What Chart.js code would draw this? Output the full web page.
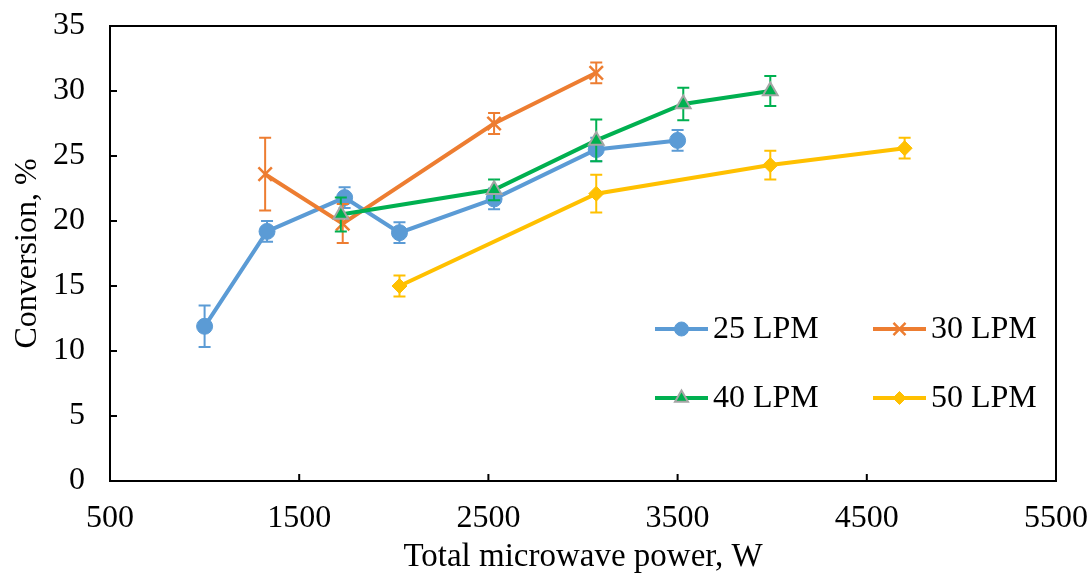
<!DOCTYPE html>
<html>
<head>
<meta charset="utf-8">
<script src="https://cdn.jsdelivr.net/npm/chart.js@4"></script>
<style>
  body { margin: 0; background: #fff; }
  #wrap { width: 1090px; height: 577px; }
</style>
</head>
<body>
<div id="wrap"><canvas id="chart"></canvas></div>
<script>
// values
const seriesNames = ["25 LPM", "30 LPM", "40 LPM", "50 LPM"];

const power25 = [1000, 1330, 1740, 2030, 2530, 3070, 3500];
const conv25 = [11.9, 19.2, 21.8, 19.1, 21.7, 25.5, 26.2];
const err25 = [1.6, 0.8, 0.8, 0.8, 0.8, 0.9, 0.8];

const power30 = [1320, 1730, 2530, 3070];
const conv30 = [23.6, 19.8, 27.5, 31.4];
const err30 = [2.8, 1.5, 0.8, 0.8];

const power40 = [1720, 2530, 3070, 3530, 3990];
const conv40 = [20.5, 22.4, 26.2, 29.0, 30.0];
const err40 = [1.3, 0.8, 1.6, 1.25, 1.15];

const power50 = [2030, 3070, 3990, 4700];
const conv50 = [15.0, 22.1, 24.3, 25.6];
const err50 = [0.8, 1.45, 1.1, 0.8];

const FONT = "'Liberation Serif', 'Times New Roman', serif";
const FSIZE = 32;

function pts(xs, ys) {
  return xs.map((x, i) => ({ x: x, y: ys[i] }));
}

const styles = [
  { color: "#5B9BD5", pointStyle: "circle", radius: 8, border: "#5B9BD5", bw: 1 },
  { color: "#ED7D31", pointStyle: "crossRot", radius: 9.5, border: "#ED7D31", bw: 2.5 },
  { color: "#00B050", pointStyle: "triangle", radius: 8.5, border: "#A5A5A5", bw: 2 },
  { color: "#FFC000", pointStyle: "rectRot", radius: 7.5, border: "#FFC000", bw: 1 }
];
const allData = [pts(power25, conv25), pts(power30, conv30), pts(power40, conv40), pts(power50, conv50)];
const allErr = [err25, err30, err40, err50];

const datasets = seriesNames.map((name, i) => ({
  label: name,
  data: allData[i],
  errors: allErr[i],
  borderColor: styles[i].color,
  backgroundColor: styles[i].color,
  borderWidth: 4,
  pointStyle: styles[i].pointStyle,
  pointRadius: styles[i].radius,
  pointBackgroundColor: styles[i].color,
  pointBorderColor: styles[i].border,
  pointBorderWidth: styles[i].bw,
  tension: 0,
  order: 3 - i
}));

// error bars, drawn under each series
const errorBars = {
  id: "errorBars",
  beforeDatasetDraw(chart, args) {
    const ds = chart.data.datasets[args.index];
    const meta = args.meta;
    const ys = chart.scales.y;
    const ctx = chart.ctx;
    ctx.save();
    ctx.strokeStyle = ds.borderColor;
    ctx.lineWidth = 2;
    meta.data.forEach((p, j) => {
      const v = ds.data[j].y, e = ds.errors[j];
      const top = ys.getPixelForValue(v + e), bot = ys.getPixelForValue(v - e);
      ctx.beginPath();
      ctx.moveTo(p.x, top); ctx.lineTo(p.x, bot);
      ctx.moveTo(p.x - 6, top); ctx.lineTo(p.x + 6, top);
      ctx.moveTo(p.x - 6, bot); ctx.lineTo(p.x + 6, bot);
      ctx.stroke();
    });
    ctx.restore();
  }
};

// frame, inward ticks and legend
const frame = {
  id: "frame",
  afterDraw(chart) {
    const ctx = chart.ctx;
    const a = chart.chartArea;
    ctx.save();
    ctx.strokeStyle = "#000";
    ctx.lineWidth = 2;
    ctx.strokeRect(a.left, a.top, a.right - a.left, a.bottom - a.top);
    ctx.beginPath();
    chart.scales.x.ticks.forEach(t => {
      const x = chart.scales.x.getPixelForValue(t.value);
      ctx.moveTo(x, a.bottom); ctx.lineTo(x, a.bottom - 7);
    });
    chart.scales.y.ticks.forEach(t => {
      const y = chart.scales.y.getPixelForValue(t.value);
      ctx.moveTo(a.left, y); ctx.lineTo(a.left + 7, y);
    });
    ctx.stroke();

    const cols = [655, 873], rows = [329, 398];
    ctx.font = FSIZE + "px " + FONT;
    ctx.textBaseline = "middle";
    chart.data.datasets.forEach((ds, i) => {
      const x = cols[i % 2], y = rows[Math.floor(i / 2)];
      ctx.strokeStyle = ds.borderColor;
      ctx.lineWidth = 4;
      ctx.beginPath();
      ctx.moveTo(x, y); ctx.lineTo(x + 53, y);
      ctx.stroke();
      ctx.fillStyle = ds.pointBackgroundColor;
      ctx.strokeStyle = ds.pointBorderColor;
      ctx.lineWidth = ds.pointBorderWidth;
      Chart.helpers.drawPoint(ctx, {
        pointStyle: ds.pointStyle, radius: ds.pointRadius - 1,
        borderWidth: ds.pointBorderWidth, rotation: 0
      }, x + 26.5, y);
      ctx.fillStyle = "#000";
      ctx.fillText(ds.label, x + 58, y + 1);
    });
    ctx.restore();
  }
};

new Chart(document.getElementById("chart"), {
  type: "line",
  data: { datasets: datasets },
  plugins: [errorBars, frame],
  options: {
    responsive: true,
    maintainAspectRatio: false,
    animation: false,
    layout: { padding: { top: 26, right: 34, left: 0, bottom: 0 } },
    plugins: { legend: { display: false }, tooltip: { enabled: false } },
    scales: {
      x: {
        type: "linear",
        min: 500, max: 5500,
        ticks: { stepSize: 1000, color: "#000", font: { family: FONT, size: FSIZE }, padding: 18, maxRotation: 0, callback: v => String(v) },
        grid: { display: false, drawTicks: false },
        border: { display: true, color: "#000", width: 2 },
        title: { display: true, text: "Total microwave power, W", color: "#000", font: { family: FONT, size: 33 }, padding: { top: 0, bottom: 0 } },
        afterFit(s) { s.height = 96; s.paddingLeft = 0; s.paddingRight = 0; }
      },
      y: {
        min: 0, max: 35,
        ticks: { stepSize: 5, color: "#000", font: { family: FONT, size: FSIZE }, padding: 25, callback: v => String(v) },
        grid: { display: false, drawTicks: false },
        border: { display: true, color: "#000", width: 2 },
        title: { display: true, text: "Conversion, %", color: "#000", font: { family: FONT, size: FSIZE }, padding: { top: 8, bottom: 0 } },
        afterFit(s) { s.width = 110; s.paddingTop = 0; s.paddingBottom = 0; }
      }
    }
  }
});
</script>
</body>
</html>
